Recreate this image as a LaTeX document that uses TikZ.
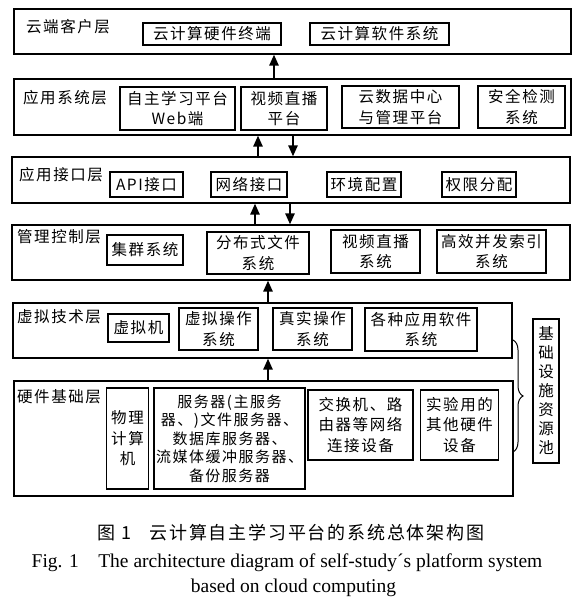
\documentclass[tikz,border=0pt]{standalone}
\usepackage{fontspec}
\newfontfamily\cjk[LetterSpace=10]{Noto Sans CJK SC}
\newfontfamily\capfont{Liberation Serif}
\usetikzlibrary{arrows.meta,decorations.pathreplacing}

\begin{document}
\begin{tikzpicture}[x=1pt,y=-1pt,
	layer/.style={draw, line width=1.1pt, inner sep=0pt},
	unit/.style={draw, line width=1.5pt, inner sep=0pt, align=center, font=\cjk\fontsize{15.5}{20.5}\selectfont},
	tag/.style={anchor=west, inner sep=0pt, font=\cjk\fontsize{15.5}{20}\selectfont},
	up/.style={line width=2.4pt, -{Triangle[width=9pt,length=11pt]}}]
\useasboundingbox (0,0) rectangle (587,608);
% layers
\node[layer, minimum width=557, minimum height=45] (client) at (292.5,31.5) {};
\node[layer, minimum width=557, minimum height=56] (appsys) at (292.5,107) {};
\node[layer, minimum width=558, minimum height=46] (apilayer) at (291,180) {};
\node[layer, minimum width=558, minimum height=55] (mgmt) at (291,252.5) {};
\node[layer, minimum width=499, minimum height=55] (virt) at (262.5,330.5) {};
\node[layer, minimum width=499, minimum height=115] (hw) at (263.5,438.5) {};
\node[tag] (clienttag) at (26,27) {云端客户层};
\node[tag] (appsystag) at (23,98) {应用系统层};
\node[tag] (apitag) at (19,175) {应用接口层};
\node[tag] (mgmttag) at (17,237) {管理控制层};
\node[tag] (virttag) at (17,317) {虚拟技术层};
\node[tag] (hwtag) at (17,397) {硬件基础层};
% cloud client
\node[unit, minimum width=138, minimum height=22] (hwterm) at (212,34) {云计算硬件终端};
\node[unit, minimum width=139, minimum height=22] (swsys) at (379.5,34) {云计算软件系统};
% application systems
\node[unit, minimum width=115, minimum height=43] (web) at (177.5,108.5) {自主学习平台\\Web端};
\node[unit, minimum width=86, minimum height=43] (live) at (284,108.5) {视频直播\\平台};
\node[unit, minimum width=117, minimum height=42] (dc) at (400.5,107) {云数据中心\\与管理平台};
\node[unit, minimum width=87, minimum height=42] (sec) at (521.5,107) {安全检测\\系统};
% interfaces
\node[unit, minimum width=73, minimum height=25] (apiif) at (146.5,184.5) {API接口};
\node[unit, minimum width=76, minimum height=25] (netif) at (249,184.5) {网络接口};
\node[unit, minimum width=74, minimum height=25] (env) at (364,184.5) {环境配置};
\node[unit, minimum width=74, minimum height=25] (perm) at (479,184.5) {权限分配};
% management
\node[unit, minimum width=76, minimum height=30] (cluster) at (145,250) {集群系统};
\node[unit, minimum width=102, minimum height=42] (dfs) at (258,253) {分布式文件\\系统};
\node[unit, minimum width=89, minimum height=43] (vlive) at (375.5,251.5) {视频直播\\系统};
\node[unit, minimum width=109, minimum height=43] (index) at (491.5,251.5) {高效并发索引\\系统};
% virtualisation
\node[unit, minimum width=61, minimum height=28] (vm) at (138.5,328) {虚拟机};
\node[unit, minimum width=79, minimum height=42] (vos) at (218.5,329) {虚拟操作\\系统};
\node[unit, minimum width=79, minimum height=42] (ros) at (312.5,329) {真实操作\\系统};
\node[unit, minimum width=112, minimum height=43] (apps) at (421,329.5) {各种应用软件\\系统};
% hardware
\node[unit, minimum width=42, minimum height=101] (pc) at (127.5,438.5) {物理\\计算\\机};
\node[unit, minimum width=151, minimum height=101, font=\cjk\fontsize{15}{18.5}\selectfont] (servers) at (229.5,438.5)
	{服务器(主服务\\器、)文件服务器、\\数据库服务器、\\流媒体缓冲服务器、\\备份服务器};
\node[unit, minimum width=105, minimum height=70] (netdev) at (360.5,425) {交换机、路\\由器等网络\\连接设备};
\node[unit, minimum width=78, minimum height=70] (otherhw) at (459.5,425) {实验用的\\其他硬件\\设备};
\node[unit, minimum width=26, minimum height=144, font=\cjk\fontsize{15.5}{19}\selectfont] (pool) at (546,391) {基\\础\\设\\施\\资\\源\\池};
% arrows
\coordinate (a1) at (274,0);
\coordinate (a2) at (258,0);
\coordinate (a3) at (293,0);
\coordinate (a4) at (255,0);
\coordinate (a5) at (290,0);
\coordinate (a6) at (268,0);
\draw[up] (appsys.north -| a1) -- (client.south -| a1);
\draw[up] (apilayer.north -| a2) -- (appsys.south -| a2);
\draw[up] (appsys.south -| a3) -- (apilayer.north -| a3);
\draw[up] (mgmt.north -| a4) -- (apilayer.south -| a4);
\draw[up] (apilayer.south -| a5) -- (mgmt.north -| a5);
\draw[up] (virt.north -| a6) -- (mgmt.south -| a6);
\draw[up] (hw.north -| a6) -- (virt.south -| a6);
% brace
\coordinate (bracetop) at (513,340);
\coordinate (bracebot) at (513,452);
\draw[line width=1pt, decorate, decoration={brace, amplitude=10pt}] (bracetop) -- (bracebot);
% caption
\node[font=\cjk\fontsize{18}{20}\selectfont] (capzh) at (291,533) {图 1\quad 云计算自主学习平台的系统总体架构图};
\node[font=\capfont\fontsize{19.5}{20}\selectfont] (capen) at (287,563) {Fig. 1\quad The architecture diagram of self-study´s platform system};
\node[font=\capfont\fontsize{19.5}{20}\selectfont] (capen2) at (293.5,588) {based on cloud computing};
\end{tikzpicture}
\end{document}
